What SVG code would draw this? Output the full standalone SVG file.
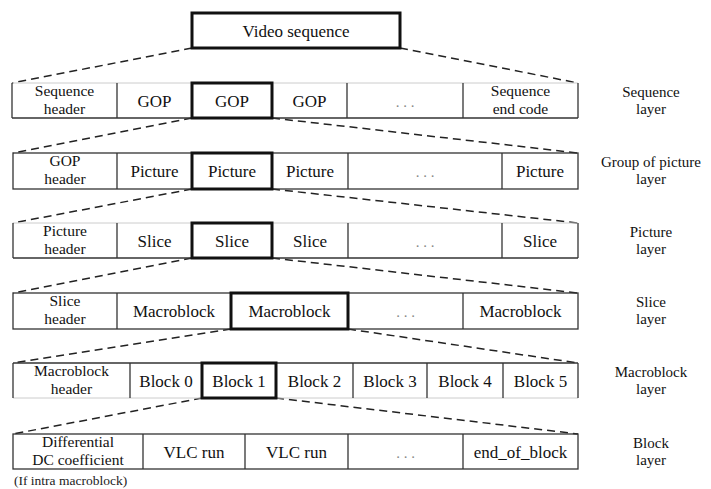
<svg xmlns="http://www.w3.org/2000/svg" width="711" height="489" viewBox="0 0 711 489">
<style>
.t{font-family:"Liberation Serif","Times New Roman",serif;font-size:17px;text-anchor:middle;fill:#111}
.t2{font-family:"Liberation Serif","Times New Roman",serif;font-size:15.5px;text-anchor:middle;fill:#111}
.lab{font-family:"Liberation Serif","Times New Roman",serif;font-size:15px;text-anchor:middle;fill:#111}
.cap{font-family:"Liberation Serif","Times New Roman",serif;font-size:13.5px;fill:#222}
.dots{font-family:"Liberation Serif","Times New Roman",serif;font-size:15px;text-anchor:middle;fill:#888}
.ln{stroke:#333;stroke-width:1.3;fill:none}
.faint{stroke:#ccc;stroke-width:1;fill:none}
.bold{stroke:#111;stroke-width:3;fill:none}
.dash{stroke:#222;stroke-width:1.5;fill:none;stroke-dasharray:8 5}
</style>
<rect width="711" height="489" fill="#fff"/>

<g id="connectors">
<line class="dash" x1="192" y1="48" x2="12" y2="83"/>
<line class="dash" x1="400" y1="48" x2="578" y2="83"/>
<line class="dash" x1="192" y1="118" x2="13" y2="153"/>
<line class="dash" x1="272" y1="118" x2="578" y2="153"/>
<line class="dash" x1="192" y1="189" x2="13" y2="223"/>
<line class="dash" x1="272" y1="189" x2="578" y2="223"/>
<line class="dash" x1="192" y1="258" x2="13" y2="293"/>
<line class="dash" x1="272" y1="258" x2="578" y2="293"/>
<line class="dash" x1="231" y1="329" x2="13" y2="363"/>
<line class="dash" x1="348" y1="329" x2="578" y2="363"/>
<line class="dash" x1="202" y1="398" x2="13" y2="434"/>
<line class="dash" x1="276" y1="398" x2="578" y2="434"/>
</g>

<g id="video-sequence">
<rect class="bold" x="192" y="13" width="208" height="35"/>
<text class="t" x="296" y="36.5">Video sequence</text>
</g>

<g id="sequence-layer">
<line class="faint" x1="12" y1="83" x2="578" y2="83"/>
<line class="ln" x1="12" y1="118" x2="578" y2="118"/>
<line class="ln" x1="12" y1="83" x2="12" y2="118"/>
<line class="ln" x1="117" y1="83" x2="117" y2="118"/>
<line class="ln" x1="347" y1="83" x2="347" y2="118"/>
<line class="ln" x1="463" y1="83" x2="463" y2="118"/>
<line class="ln" x1="578" y1="83" x2="578" y2="118"/>
<g id="seq-header"><text class="t2" x="64.5" y="96">Sequence</text><text class="t2" x="64.5" y="113.5">header</text></g>
<g id="seq-gop1"><text class="t" x="154.5" y="106.5">GOP</text></g>
<g id="seq-gop2"><rect class="bold" x="192" y="83" width="80" height="35"/><text class="t" x="232" y="106.5">GOP</text></g>
<g id="seq-gop3"><text class="t" x="309.5" y="106.5">GOP</text></g>
<g id="seq-dots"><text class="dots" x="405" y="106.5">. . .</text></g>
<g id="seq-end"><text class="t2" x="520.5" y="96">Sequence</text><text class="t2" x="520.5" y="113.5">end code</text></g>
<text class="lab" x="651" y="96.5">Sequence</text><text class="lab" x="651" y="113.5">layer</text>
</g>

<g id="gop-layer">
<rect class="ln" x="13" y="153" width="565" height="36"/>
<line class="ln" x1="117" y1="153" x2="117" y2="189"/>
<line class="ln" x1="348" y1="153" x2="348" y2="189"/>
<line class="ln" x1="502" y1="153" x2="502" y2="189"/>
<g id="gop-header"><text class="t2" x="65" y="166">GOP</text><text class="t2" x="65" y="183.5">header</text></g>
<g id="gop-pic1"><text class="t" x="154.5" y="177">Picture</text></g>
<g id="gop-pic2"><rect class="bold" x="192" y="153" width="80" height="36"/><text class="t" x="232" y="177">Picture</text></g>
<g id="gop-pic3"><text class="t" x="310" y="177">Picture</text></g>
<g id="gop-dots"><text class="dots" x="425" y="177">. . .</text></g>
<g id="gop-pic4"><text class="t" x="540" y="177">Picture</text></g>
<text class="lab" x="651" y="167">Group of picture</text><text class="lab" x="651" y="184">layer</text>
</g>

<g id="picture-layer">
<line class="faint" x1="13" y1="223" x2="578" y2="223"/>
<line class="ln" x1="13" y1="258" x2="578" y2="258"/>
<line class="ln" x1="13" y1="223" x2="13" y2="258"/>
<line class="ln" x1="117" y1="223" x2="117" y2="258"/>
<line class="ln" x1="348" y1="223" x2="348" y2="258"/>
<line class="ln" x1="502" y1="223" x2="502" y2="258"/>
<line class="ln" x1="578" y1="223" x2="578" y2="258"/>
<g id="pic-header"><text class="t2" x="65" y="236">Picture</text><text class="t2" x="65" y="253.5">header</text></g>
<g id="pic-slice1"><text class="t" x="154.5" y="246.5">Slice</text></g>
<g id="pic-slice2"><rect class="bold" x="192" y="223" width="80" height="35"/><text class="t" x="232" y="246.5">Slice</text></g>
<g id="pic-slice3"><text class="t" x="310" y="246.5">Slice</text></g>
<g id="pic-dots"><text class="dots" x="425" y="246.5">. . .</text></g>
<g id="pic-slice4"><text class="t" x="540" y="246.5">Slice</text></g>
<text class="lab" x="651" y="236.5">Picture</text><text class="lab" x="651" y="253.5">layer</text>
</g>

<g id="slice-layer">
<rect class="ln" x="13" y="293" width="565" height="36"/>
<line class="ln" x1="117" y1="293" x2="117" y2="329"/>
<line class="ln" x1="463" y1="293" x2="463" y2="329"/>
<g id="slice-header"><text class="t2" x="65" y="306">Slice</text><text class="t2" x="65" y="323.5">header</text></g>
<g id="slice-mb1"><text class="t" x="174" y="317">Macroblock</text></g>
<g id="slice-mb2"><rect class="bold" x="231" y="293" width="117" height="36"/><text class="t" x="289.5" y="317">Macroblock</text></g>
<g id="slice-dots"><text class="dots" x="405.5" y="317">. . .</text></g>
<g id="slice-mb3"><text class="t" x="520.5" y="317">Macroblock</text></g>
<text class="lab" x="651" y="307">Slice</text><text class="lab" x="651" y="324">layer</text>
</g>

<g id="macroblock-layer">
<line class="ln" x1="13" y1="363" x2="578" y2="363"/>
<line class="faint" x1="13" y1="398" x2="578" y2="398"/>
<line class="ln" x1="13" y1="363" x2="13" y2="398"/>
<line class="ln" x1="130" y1="363" x2="130" y2="398"/>
<line class="ln" x1="353" y1="363" x2="353" y2="398"/>
<line class="ln" x1="427" y1="363" x2="427" y2="398"/>
<line class="ln" x1="503" y1="363" x2="503" y2="398"/>
<line class="ln" x1="578" y1="363" x2="578" y2="398"/>
<g id="mb-header"><text class="t2" x="71.5" y="376">Macroblock</text><text class="t2" x="71.5" y="393.5">header</text></g>
<g id="mb-block0"><text class="t" x="166" y="386.5">Block 0</text></g>
<g id="mb-block1"><rect class="bold" x="202" y="363" width="74" height="35"/><text class="t" x="239" y="386.5">Block 1</text></g>
<g id="mb-block2"><text class="t" x="314.5" y="386.5">Block 2</text></g>
<g id="mb-block3"><text class="t" x="390" y="386.5">Block 3</text></g>
<g id="mb-block4"><text class="t" x="465" y="386.5">Block 4</text></g>
<g id="mb-block5"><text class="t" x="540.5" y="386.5">Block 5</text></g>
<text class="lab" x="651" y="376.5">Macroblock</text><text class="lab" x="651" y="393.5">layer</text>
</g>

<g id="block-layer">
<rect class="ln" x="13" y="434" width="565" height="35"/>
<line class="ln" x1="143" y1="434" x2="143" y2="469"/>
<line class="ln" x1="245" y1="434" x2="245" y2="469"/>
<line class="ln" x1="348" y1="434" x2="348" y2="469"/>
<line class="ln" x1="463" y1="434" x2="463" y2="469"/>
<g id="blk-dc"><text class="t2" x="78" y="447">Differential</text><text class="t2" x="78" y="464.5">DC coefficient</text></g>
<g id="blk-vlc1"><text class="t" x="194" y="457.5">VLC run</text></g>
<g id="blk-vlc2"><text class="t" x="296.5" y="457.5">VLC run</text></g>
<g id="blk-dots"><text class="dots" x="405.5" y="457.5">. . .</text></g>
<g id="blk-eob"><text class="t" x="520.5" y="457.5">end_of_block</text></g>
<text class="lab" x="651" y="447.5">Block</text><text class="lab" x="651" y="464.5">layer</text>
</g>

<text class="cap" x="14" y="485">(If intra macroblock)</text>
</svg>
